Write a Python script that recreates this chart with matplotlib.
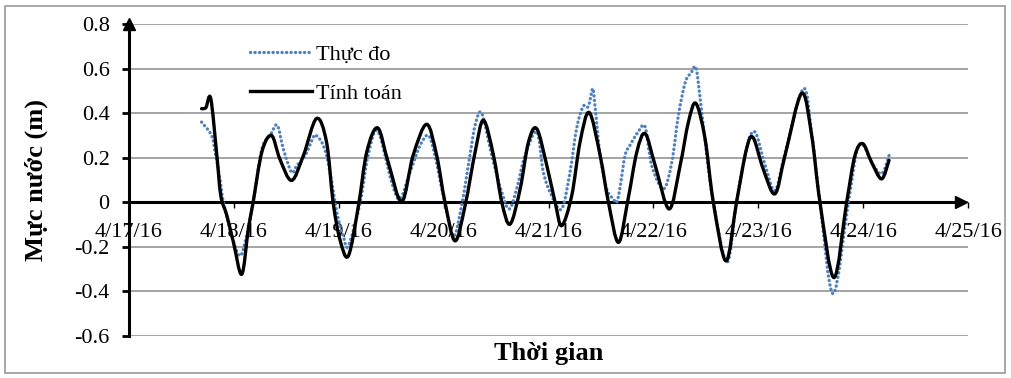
import matplotlib.pyplot as plt
import numpy as np
from matplotlib.patches import Rectangle, PathPatch
from matplotlib.path import Path
from matplotlib.lines import Line2D

plt.rcParams['font.family'] = ['Liberation Serif', 'DejaVu Serif']

# hours after 4/17/16 00:00
obs_h = [16.6, 18.9, 19.7, 20.8, 21.6, 23.5, 25.4, 26.9, 28.4, 30.4, 32.3, 33.9, 35.3, 37.2, 38.4,
         40.3, 42.2, 42.8, 44.1, 45.2, 46.4, 47.6, 49.0, 50.2, 52.9, 54.7, 56.9, 60.1, 62.0, 64.3,
         66.6, 68.5, 70.0, 71.9, 74.2, 76.1, 78.0, 79.2, 80.7, 83.0, 85.3, 87.0, 88.7, 90.6, 93.3,
         94.8, 96.7, 99.0, 100.9, 102.4, 103.9, 105.1, 106.1, 106.6, 107.8, 109.3, 110.8, 111.6, 112.3, 113.5,
         114.6, 116.5, 118.1, 119.6, 122.3, 124.2, 125.7, 127.3, 128.6, 129.7, 130.6, 132.2, 133.7, 136.8, 139.0,
         141.3, 143.2, 145.5, 147.8, 150.1, 154.3, 156.2, 158.1, 161.1, 164.6, 166.5, 168.0, 169.9, 172.2, 173.9]
obs_v = [0.36, 0.30, 0.225, 0.105, 0.0, -0.15, -0.24, -0.15, 0.0, 0.24, 0.30, 0.346, 0.24, 0.135, 0.165,
         0.21, 0.293, 0.30, 0.27, 0.21, 0.09, -0.05, -0.15, -0.195, 0.0, 0.21, 0.32, 0.09, 0.015, 0.135,
         0.255, 0.30, 0.21, 0.03, -0.15, -0.015, 0.21, 0.346, 0.40, 0.21, 0.045, -0.03, 0.06, 0.21, 0.316,
         0.135, 0.03, -0.03, 0.135, 0.33, 0.43, 0.43, 0.51, 0.436, 0.21, 0.06, 0.015, 0.0, 0.06, 0.21,
         0.255, 0.316, 0.338, 0.165, 0.06, 0.18, 0.39, 0.54, 0.58, 0.605, 0.48, 0.21, 0.0, -0.27, 0.0,
         0.24, 0.316, 0.17, 0.053, 0.22, 0.51, 0.31, 0.0, -0.41, 0.0, 0.226, 0.256, 0.18, 0.128, 0.21]

calc_h = [16.6, 17.6, 18.7, 20.1, 21.0, 22.4, 23.9, 25.8, 27.3, 28.4, 30.4, 32.6, 34.5, 37.2, 39.9,
          42.9, 45.2, 46.7, 48.3, 50.2, 52.5, 54.4, 56.9, 59.3, 62.4, 65.0, 68.1, 70.4, 72.3, 74.6,
          76.9, 79.2, 81.1, 83.4, 85.3, 87.2, 89.5, 91.4, 93.3, 95.6, 97.5, 99.0, 101.3, 103.2, 105.3,
          107.8, 109.7, 112.0, 114.2, 116.2, 118.1, 120.4, 123.6, 126.1, 128.0, 129.7, 131.8, 133.7, 136.6,
          139.0, 141.3, 142.8, 145.1, 147.8, 150.1, 153.9, 156.2, 158.1, 161.3, 164.2, 166.1, 167.9, 169.9,
          172.2, 173.9]
calc_v = [0.42, 0.425, 0.466, 0.21, 0.03, -0.06, -0.18, -0.323, -0.12, 0.0, 0.226, 0.30, 0.195, 0.098, 0.21,
          0.376, 0.27, 0.0, -0.17, -0.24, -0.015, 0.226, 0.334, 0.18, 0.003, 0.21, 0.35, 0.21, 0.0, -0.173,
          -0.015, 0.226, 0.368, 0.21, 0.0, -0.098, 0.06, 0.27, 0.33, 0.165, 0.0, -0.105, 0.03, 0.27, 0.403,
          0.21, 0.0, -0.18, 0.015, 0.226, 0.308, 0.165, -0.03, 0.165, 0.36, 0.444, 0.286, 0.0, -0.263,
          0.0, 0.24, 0.29, 0.15, 0.038, 0.21, 0.489, 0.30, 0.0, -0.338, 0.0, 0.21, 0.263, 0.18,
          0.105, 0.188]

day_labels = ['4/17/16', '4/18/16', '4/19/16', '4/20/16', '4/21/16',
              '4/22/16', '4/23/16', '4/24/16', '4/25/16']
y_ticks = [-0.6, -0.4, -0.2, 0, 0.2, 0.4, 0.6, 0.8]
y_labels = ['-0.6', '-0.4', '-0.2', '0', '0.2', '0.4', '0.6', '0.8']

obs_color = '#4F81BD'


def smooth_path(x, y):
    # Excel-style smoothed line: bezier segments through the points
    pts = np.column_stack([x, y])
    n = len(pts)
    verts = [pts[0]]
    codes = [Path.MOVETO]
    for i in range(n - 1):
        p0 = pts[i - 1] if i > 0 else pts[i]
        p1, p2 = pts[i], pts[i + 1]
        p3 = pts[i + 2] if i + 2 < n else pts[i + 1]
        verts += [p1 + (p2 - p0) / 6, p2 - (p3 - p1) / 6, p2]
        codes += [Path.CURVE4] * 3
    return Path(verts, codes)


fig = plt.figure(figsize=(10.11, 3.78), dpi=100)
ax = fig.add_axes([0.1276, 0.1111, 0.83, 0.8254])

obs_patch = PathPatch(smooth_path(np.array(obs_h) / 24, obs_v), fill=False, edgecolor=obs_color,
                      lw=2.4, linestyle=(0, (0.05, 1.3)), capstyle='round', zorder=3)
ax.add_patch(obs_patch)
calc_patch = PathPatch(smooth_path(np.array(calc_h) / 24, calc_v), fill=False, edgecolor='black',
                       lw=2.4, capstyle='round', joinstyle='round', zorder=4)
ax.add_patch(calc_patch)

ax.set_xlim(0, 8)
ax.set_ylim(-0.6, 0.8)
ax.set_xticks(range(len(day_labels)))
ax.set_xticklabels(day_labels)
ax.set_yticks(y_ticks)
ax.set_yticklabels(y_labels)
ax.grid(axis='y', color='#8c8c8c', lw=1.1)
ax.set_axisbelow(True)

ax.spines['top'].set_visible(False)
ax.spines['right'].set_visible(False)
ax.spines['left'].set_linewidth(2.2)
ax.spines['bottom'].set_linewidth(2.2)
ax.spines['bottom'].set_position(('data', 0))
ax.spines['bottom'].set_bounds(0, 7.9)
ax.tick_params(axis='x', direction='out', length=4, width=1, pad=11, labelsize=16)
ax.tick_params(axis='y', direction='out', length=5, width=2, pad=9, labelsize=16)

# axis arrows
ax.plot(0, 1.0, marker='^', color='black', ms=9, transform=ax.transAxes, clip_on=False, zorder=5)
ax.plot(7.93, 0, marker='>', color='black', ms=9, clip_on=False, zorder=5)

ax.set_ylabel('Mực nước (m)', fontsize=19, fontweight='bold')
ax.yaxis.set_label_coords(-0.097, 0.5)
ax.text(0.5, -0.055, 'Thời gian', transform=ax.transAxes, ha='center', va='center',
        fontsize=19, fontweight='bold')

handles = [Line2D([], [], color=obs_color, lw=2.4, linestyle=(0, (0.05, 1.3)), dash_capstyle='round'),
           Line2D([], [], color='black', lw=2.4)]
ax.legend(handles, ['Thực đo', 'Tính toán'], loc='upper left', bbox_to_anchor=(0.12, 1.0),
          frameon=False, fontsize=16, handlelength=2.8, handletextpad=0.2, labelspacing=0.85)

fig.patches.append(Rectangle((5 / 1011, 5 / 378), 1000 / 1011, 367 / 378, transform=fig.transFigure,
                             fill=False, edgecolor='#9a9a9a', lw=1.2))

plt.savefig('out.png', dpi=100)
